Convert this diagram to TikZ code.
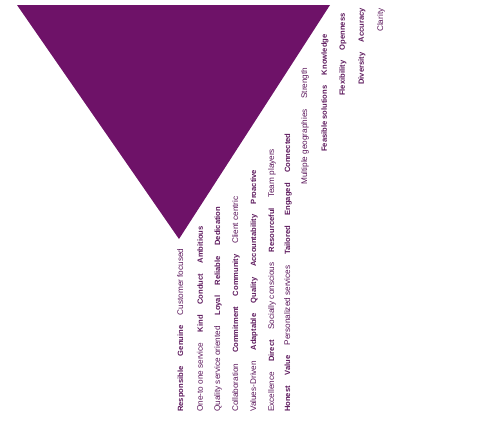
\documentclass[tikz,border=0pt]{standalone}
\usepackage{fontspec}
\setmainfont{Liberation Sans}
\usepackage{tikz}
\usetikzlibrary{positioning}
\definecolor{plum}{RGB}{110,18,104}
\definecolor{plumtext}{RGB}{92,24,92}
\newcommand{\gp}{\hspace{10.5bp}}
\newcommand{\bw}[1]{{\fontsize{7.6bp}{9bp}\selectfont\bfseries #1}}

\begin{document}
\begin{tikzpicture}[
    x=1bp, y=-1bp,
    tri/.style={fill=plum, draw=none},
    val/.style={rotate=90, anchor=west, inner sep=0pt, font=\fontsize{8.2bp}{9bp}\selectfont, text=plumtext}
]
\useasboundingbox (0,0) rectangle (497,430);
\fill[tri] (17,5) -- (330,5) -- (179,239) -- cycle;

\node[val] (col1) at (181,412) {\bw{Responsible}\gp\bw{Genuine}\gp Customer focused};
\node[val] (col2) at (200,412) {One-to one service\gp\bw{Kind}\gp\bw{Conduct}\gp\bw{Ambitious}};
\node[val] (col3) at (218,412) {Quality service oriented\gp\bw{Loyal}\gp\bw{Reliable}\gp\bw{Dedication}};
\node[val] (col4) at (236,412) {Collaboration\gp\bw{Commitment}\gp\bw{Community}\gp Client centric};
\node[val] (col5) at (254,412) {Values-Driven\gp\bw{Adaptable}\gp\bw{Quality}\gp\bw{Accountability}\gp\bw{Proactive}};
\node[val] (col6) at (272,412) {Excellence\gp\bw{Direct}\gp Socially conscious\gp\bw{Resourceful}\gp Team players};
\node[val] (col7) at (288,412) {\bw{Honest}\gp\bw{Value}\gp Personalized services\gp\bw{Tailored}\gp\bw{Engaged}\gp\bw{Connected}};
\node[val] (col8) at (305,185) {Multiple geographies\gp Strength};
\node[val] (col9) at (325,152) {\bw{Feasible solutions}\gp\bw{Knowledge}};
\node[val] (col10) at (343,96) {\bw{Flexibility}\gp\bw{Openness}};
\node[val] (col11) at (362,85) {\bw{Diversity}\gp\bw{Accuracy}};
\node[val] (col12) at (381,32) {Clarity};
\end{tikzpicture}
\end{document}
